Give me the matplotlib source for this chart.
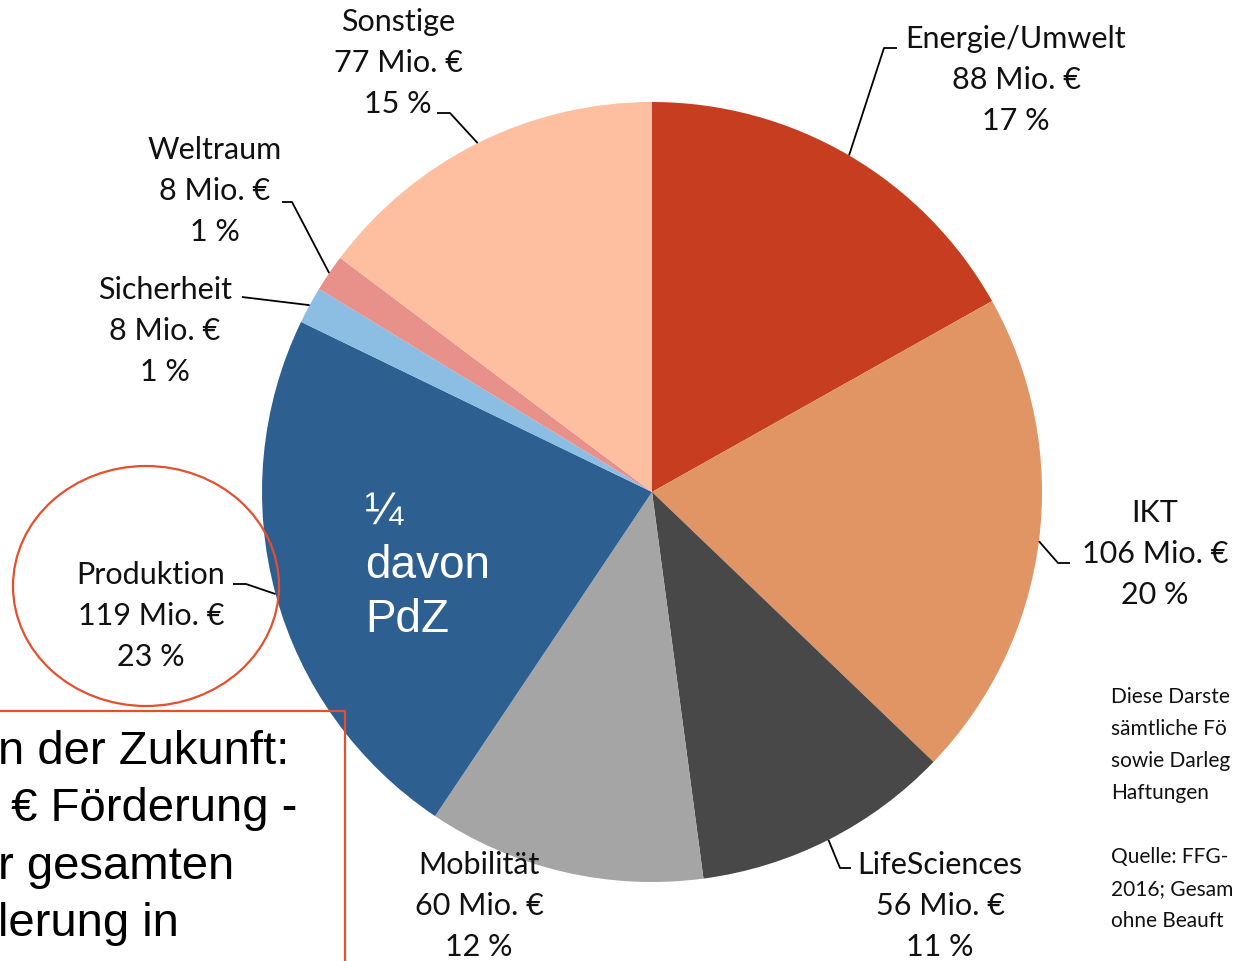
import matplotlib.pyplot as plt
import numpy as np
from matplotlib.patches import Ellipse

categories = ["Energie/Umwelt", "IKT", "LifeSciences", "Mobilität",
              "Produktion", "Sicherheit", "Weltraum", "Sonstige"]
mio_eur = [88, 106, 56, 60, 119, 8, 8, 77]
percent = [17, 20, 11, 12, 23, 1, 1, 15]
colors = ["#C63D1F", "#E19464", "#484848", "#A5A5A5",
          "#2E5F91", "#8CBDE3", "#E8918A", "#FEBFA1"]

box_lines = ["n der Zukunft:", " € Förderung -", "r gesamten", "lerung in"]
note_lines = ["Diese Darste", "sämtliche Fö", "sowie Darleg", "Haftungen", "",
              "Quelle: FFG-", "2016; Gesam", "ohne Beauft"]

W, H = 1238, 962
fig = plt.figure(figsize=(W / 100, H / 100), dpi=100)
ax = fig.add_axes([0, 0, 1, 1])


def py(y):
    # picture rows run downward, axes y runs upward
    return H - y


cx, cy, r = 652, py(493), 390
wedges, _ = ax.pie(mio_eur, colors=colors, startangle=90, counterclock=False,
                   center=(cx, cy), radius=r, frame=True,
                   wedgeprops=dict(linewidth=0))
ax.set_xlim(0, W)
ax.set_ylim(0, H)
ax.set_aspect("equal")
ax.axis("off")

lab_font = ["Lato", "DejaVu Sans"]
# label centre (middle line) and elbow points of the leader, in picture pixels
label_pos = [(1016, 80), (1155, 554), (940, 906), (479, 906),
             (151, 616), (165, 331), (215, 191), (398, 63)]
leaders = [[(897, 49), (884, 49)],
           [(1070, 564), (1058, 564)],
           [(851, 869), (840, 869)],
           None,
           [(233, 585), (246, 585)],
           [(242, 298)],
           [(282, 203), (292, 203)],
           [(437, 114), (450, 114)]]

for w, cat, v, p, pos, lead in zip(wedges, categories, mio_eur, percent, label_pos, leaders):
    txt = f"{cat}\n{v} Mio. €\n{p} %"
    ax.text(pos[0], py(pos[1]), txt, ha="center", va="center", fontsize=22,
            family=lab_font, linespacing=1.55, color="#111111")
    if lead is None:
        continue
    mid = np.deg2rad((w.theta1 + w.theta2) / 2)
    ex, ey = cx + r * np.cos(mid), cy + r * np.sin(mid)
    xs = [q[0] for q in lead] + [ex]
    ys = [py(q[1]) for q in lead] + [ey]
    ax.plot(xs, ys, color="black", lw=1.3, solid_capstyle="butt")

# text inside the Produktion slice
ax.text(365, py(566), "¼\ndavon\nPdZ", ha="left", va="center", color="white",
        fontsize=33, family=["Liberation Sans", "DejaVu Sans"], linespacing=1.3)

# red circle around the Produktion label
ax.add_patch(Ellipse((146, py(587)), 266, 240, fill=False, edgecolor="#E4502E", lw=1.6))

# cropped text box at lower left
ax.plot([-5, 345, 345], [py(712), py(712), -5], color="#E4502E", lw=1.6)
for i, line in enumerate(box_lines):
    ax.text(-2, py(752 + i * 57.5), line, ha="left", va="center", fontsize=34,
            family=["Liberation Sans", "DejaVu Sans"], color="black")

# source note at right (cut off by the slide edge)
for i, line in enumerate(note_lines):
    ax.text(1111, py(697 + i * 32), line, ha="left", va="center", fontsize=15,
            family=lab_font, color="#111111")

fig.savefig("out.png", dpi=100)
